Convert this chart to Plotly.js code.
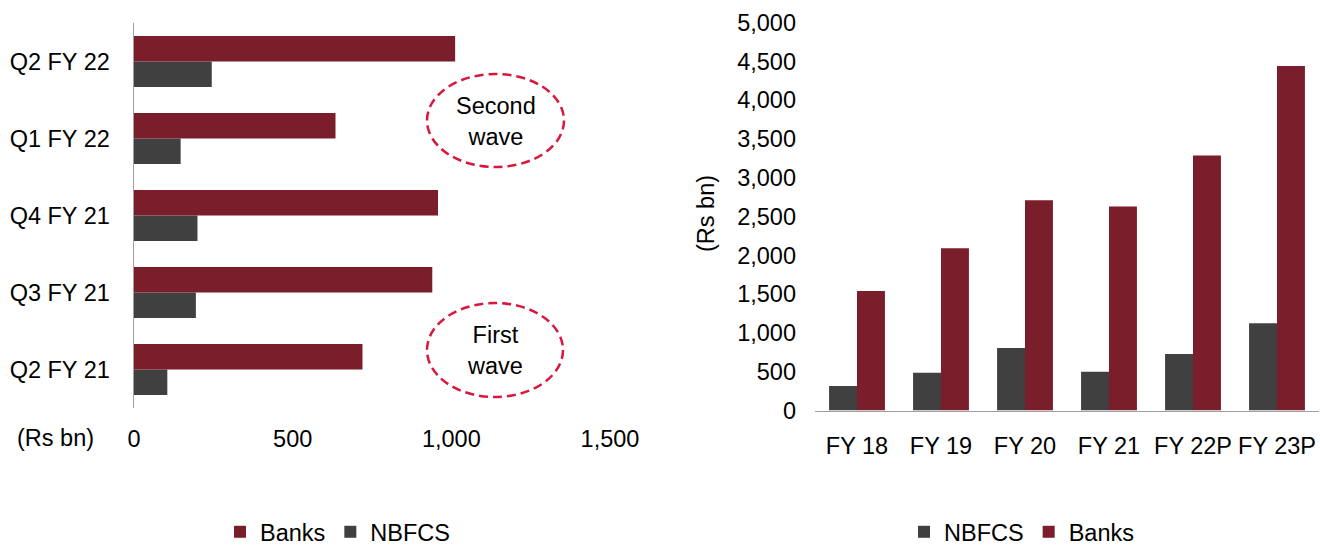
<!DOCTYPE html>
<html>
<head>
<meta charset="utf-8">
<script src="https://cdn.plot.ly/plotly-3.0.1.min.js"></script>
<style>html,body{margin:0;padding:0;background:#fff;}#chart{width:1320px;height:546px;}</style>
</head>
<body>
<div id="chart"></div>
<script>
// Left chart: quarterly (Rs bn)
const quarters = ['Q2 FY 21', 'Q3 FY 21', 'Q4 FY 21', 'Q1 FY 22', 'Q2 FY 22'];
const quarterBanks = [720, 940, 958, 635, 1012];
const quarterNBFCS = [105, 195, 200, 147, 245];

// Right chart: annual (Rs bn)
const years = ['FY 18', 'FY 19', 'FY 20', 'FY 21', 'FY 22P', 'FY 23P'];
const yearNBFCS = [315, 485, 805, 500, 728, 1125];
const yearBanks = [1540, 2090, 2710, 2630, 3285, 4440];

const leftTicks = [0, 500, 1000, 1500];
const rightTicks = [0, 500, 1000, 1500, 2000, 2500, 3000, 3500, 4000, 4500, 5000];

const BANKS = '#7B1E2B';
const NBFCS = '#404040';
const W = 1320, H = 546;
const px = v => v / W;
const py = v => 1 - v / H;

const traces = [
  {type: 'bar', orientation: 'h', name: 'NBFCS', y: quarters, x: quarterNBFCS,
   marker: {color: NBFCS}, xaxis: 'x', yaxis: 'y', legend: 'legend', legendrank: 2},
  {type: 'bar', orientation: 'h', name: 'Banks', y: quarters, x: quarterBanks,
   marker: {color: BANKS}, xaxis: 'x', yaxis: 'y', legend: 'legend', legendrank: 1},
  {type: 'bar', name: 'NBFCS', x: years, y: yearNBFCS,
   marker: {color: NBFCS}, xaxis: 'x2', yaxis: 'y2', legend: 'legend2', legendrank: 1},
  {type: 'bar', name: 'Banks', x: years, y: yearBanks,
   marker: {color: BANKS}, xaxis: 'x2', yaxis: 'y2', legend: 'legend2', legendrank: 2}
];

const axisFont = {family: 'Liberation Sans, Arial, sans-serif', size: 23.5, color: '#000'};

const layout = {
  width: W, height: H,
  margin: {l: 0, r: 0, t: 0, b: 0, autoexpand: false},
  paper_bgcolor: '#fff', plot_bgcolor: '#fff',
  font: axisFont,
  barmode: 'group', bargap: 0.335, bargroupgap: 0,
  showlegend: true,
  xaxis: {domain: [px(134), px(610)], range: [0, 1500], tickvals: leftTicks, tickformat: ',',
          showgrid: false, zeroline: false, showline: false, ticks: '', anchor: 'y',
          ticklabelstandoff: 14, fixedrange: true},
  yaxis: {domain: [py(408), py(23)], type: 'category', categoryorder: 'array', categoryarray: quarters,
          showgrid: false, zeroline: false, showline: true, linecolor: '#A0A0A0', linewidth: 1.5,
          ticks: '', anchor: 'x', ticklabelstandoff: 18, fixedrange: true},
  xaxis2: {domain: [px(815), px(1319)], type: 'category', showgrid: false, zeroline: false,
           showline: true, linecolor: '#A0A0A0', linewidth: 1.5, ticks: '', anchor: 'y2',
           ticklabelstandoff: 14, fixedrange: true},
  yaxis2: {domain: [py(410.5), py(22.5)], range: [0, 5000], tickvals: rightTicks, tickformat: ',',
           showgrid: false, zeroline: false, showline: false, ticks: '', anchor: 'x2',
           ticklabelstandoff: 18, fixedrange: true},
  legend: {orientation: 'h', x: px(220), xanchor: 'left', y: py(532), yanchor: 'middle',
           font: axisFont, bgcolor: 'rgba(0,0,0,0)', itemclick: false, itemdoubleclick: false},
  legend2: {orientation: 'h', x: px(904), xanchor: 'left', y: py(532), yanchor: 'middle',
            font: axisFont, bgcolor: 'rgba(0,0,0,0)', itemclick: false, itemdoubleclick: false},
  shapes: [
    {type: 'circle', xref: 'paper', yref: 'paper', x0: px(427), x1: px(564), y0: py(167), y1: py(74),
     line: {color: '#D9163C', width: 2.5, dash: '9px,5px'}},
    {type: 'circle', xref: 'paper', yref: 'paper', x0: px(427), x1: px(563), y0: py(397), y1: py(303),
     line: {color: '#D9163C', width: 2.5, dash: '9px,5px'}}
  ],
  annotations: [
    {text: 'Second<br>wave', xref: 'paper', yref: 'paper', x: px(496), y: py(121),
     xanchor: 'center', yanchor: 'middle', showarrow: false, font: axisFont, align: 'center'},
    {text: 'First<br>wave', xref: 'paper', yref: 'paper', x: px(495), y: py(350),
     xanchor: 'center', yanchor: 'middle', showarrow: false, font: axisFont, align: 'center'},
    {text: '(Rs bn)', xref: 'paper', yref: 'paper', x: px(55), y: py(438),
     xanchor: 'center', yanchor: 'middle', showarrow: false, font: axisFont},
    {text: '(Rs bn)', xref: 'paper', yref: 'paper', x: px(706), y: py(213), textangle: -90,
     xanchor: 'center', yanchor: 'middle', showarrow: false, font: axisFont}
  ]
};

Plotly.newPlot('chart', traces, layout, {displayModeBar: false, staticPlot: true});
</script>
</body>
</html>
